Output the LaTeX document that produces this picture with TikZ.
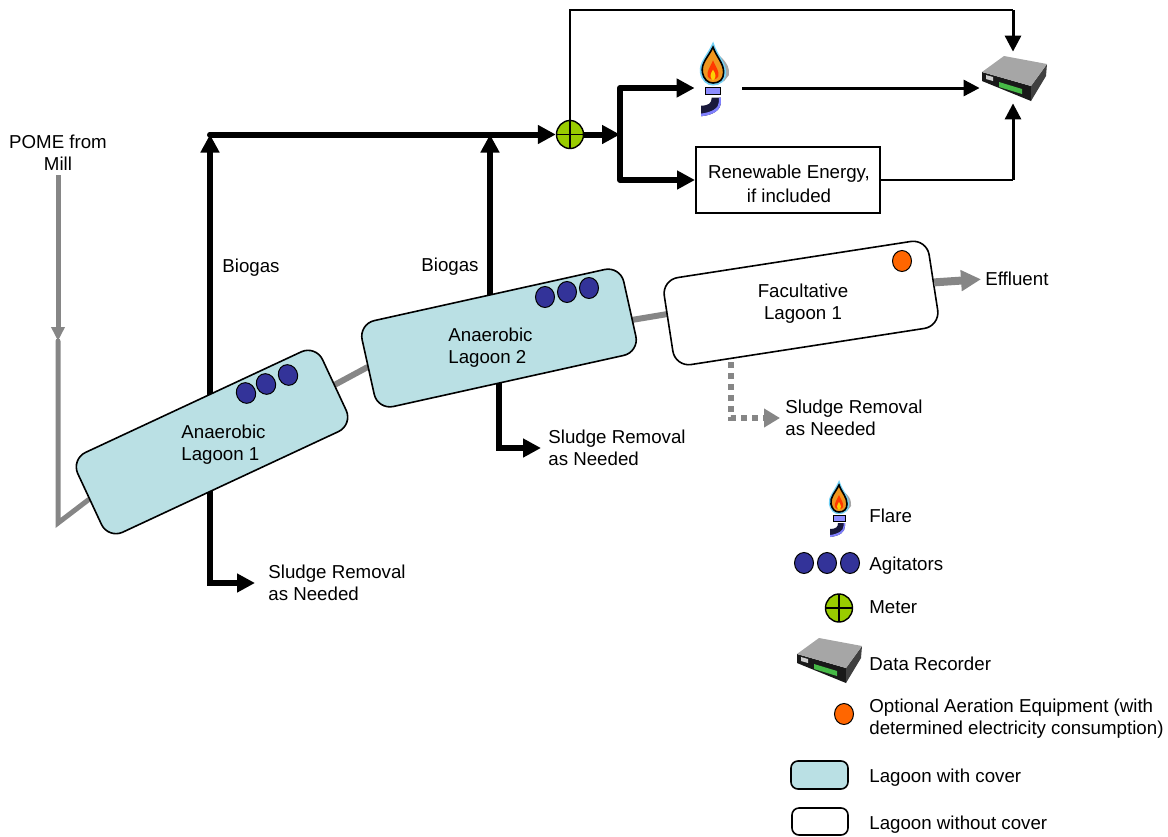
\documentclass[tikz,border=0pt]{standalone}
\usepackage{fontspec}
\setmainfont{Liberation Sans}
\usetikzlibrary{arrows.meta,backgrounds,calc,shapes.geometric}
\definecolor{covercyan}{RGB}{186,224,228}
\definecolor{agitatorblue}{RGB}{51,51,153}
\definecolor{meterlime}{RGB}{153,204,0}
\definecolor{aerateorange}{RGB}{255,102,0}
\definecolor{pipegray}{RGB}{134,134,134}
\definecolor{flameorange}{RGB}{240,150,30}
\definecolor{elbownavy}{RGB}{25,25,60}
\tikzset{
    lbl/.style={inner sep=0pt, yshift=-1pt, align=left, font=\fontsize{9.35}{11}\selectfont},
    lagoon/.style={draw=black, line width=0.8pt, rounded corners=8pt, minimum width=#1*0.5pt, minimum height=44pt, inner sep=0pt},
    agitator/.style={draw=black, fill=agitatorblue, line width=0.5pt, ellipse, minimum width=9.5pt, minimum height=10.5pt, inner sep=0pt},
    aerator/.style={draw=black, fill=aerateorange, line width=0.5pt, ellipse, minimum width=9.5pt, minimum height=10.5pt, inner sep=0pt},
    meterdot/.style={draw=black, fill=meterlime, line width=0.7pt, ellipse, minimum width=13.5pt, minimum height=14pt, inner sep=0pt,
        path picture={\draw[line width=0.7pt] (path picture bounding box.north) -- (path picture bounding box.south)
            (path picture bounding box.west) -- (path picture bounding box.east);}},
    iconslot/.style={inner sep=0pt},
    bus/.style={line width=3pt, line cap=round, black},
    busarrow/.style={bus, line cap=butt, -{Triangle[length=9pt,width=9pt]}},
    midline/.style={line width=1.5pt, black},
    thinline/.style={line width=1pt, black},
    slurry/.style={line width=2.5pt, pipegray, line cap=round},
    pics/flareicon/.style={code={
        \fill[gray!70] (-1,-33) .. controls (5,-25) and (13,-22) .. (12,-12) -- (8,-7) -- cycle;
        \draw[cyan!55, line width=1.2pt, fill=flameorange] (0,-35) .. controls (-4,-26) and (-10,-21) .. (-9,-14) .. controls (-8,-8) and (-4,-5) .. (0,-5) .. controls (5,-5) and (9,-8) .. (9,-14) .. controls (9,-21) and (3,-26) .. (0,-35) -- cycle;
        \draw[black, line width=0.8pt, fill=flameorange] (0,-33) .. controls (-4,-25) and (-9,-21) .. (-8,-14) .. controls (-7,-9) and (-4,-6) .. (0,-6) .. controls (5,-6) and (8,-9) .. (8,-14) .. controls (8,-21) and (3,-25) .. (0,-33) -- cycle;
        \fill[red!55!orange] (0,-23) .. controls (-2,-18) and (-5,-15) .. (-4,-11) .. controls (-3,-8) and (3,-8) .. (4,-11) .. controls (5,-15) and (2,-18) .. (0,-23) -- cycle;
        \fill[yellow!70!orange] (0,-16) .. controls (-2,-13) and (-3,-10) .. (0,-8) .. controls (3,-10) and (2,-13) .. (0,-16) -- cycle;
        \draw[black, line width=0.5pt, fill=blue!45!white] (-6,-3) rectangle (6,3);
        \fill[elbownavy] (-1,5) -- (6,5) -- (6,8) .. controls (6,14) and (1,18) .. (-9,19) -- (-9,11) .. controls (-3,11) and (-1,9) .. (-1,5) -- cycle;
        \fill[blue!50!white] (4.5,5) -- (6,5) -- (6,8) .. controls (6,14) and (1,18) .. (-9,19) -- (-9,17) .. controls (-1,16) and (4.5,13) .. (4.5,8) -- cycle;
    }},
    pics/recordericon/.style={code={
        \fill[black!90] (-32,-6) -- (17,8) -- (17,23) -- (-32,3) -- cycle;
        \fill[black!75] (17,8) -- (33,-14) -- (32,-2) -- (17,23) -- cycle;
        \fill[gray!70] (-32,-6) -- (-10,-22) -- (33,-14) -- (17,8) -- cycle;
        \fill[green!45!gray] (-15,4) -- (8,11) -- (8,16) -- (-15,9) -- cycle;
        \fill[gray!40] (-28,-3) -- (-21,-1) -- (-21,3) -- (-28,1) -- cycle;
    }}
}
\begin{document}
\begin{tikzpicture}[x=0.5pt,y=-0.5pt]
    \useasboundingbox (0,0) rectangle (1168,836);

    % Lagoons
    \node[lagoon=270, fill=covercyan, rotate=25] (lagoonA) at (212,442) {};
    \node[lagoon=268, fill=covercyan, rotate=12.5] (lagoonB) at (499,338) {};
    \node[lagoon=268, fill=white, rotate=8.8] (lagoonC) at (801,303) {};
    \node[lbl, anchor=west] (labelA) at (181,443) {Anaerobic\\Lagoon 1};
    \node[lbl, anchor=west] (labelB) at (448,346) {Anaerobic\\Lagoon 2};
    \node[lbl, align=center] (labelC) at (803,302) {Facultative\\Lagoon 1};

    % Agitators and aeration
    \node[agitator, rotate=25] (agA1) at (246,393) {};
    \node[agitator, rotate=25] (agA2) at (266,384) {};
    \node[agitator, rotate=25] (agA3) at (288,375) {};
    \node[agitator] (agB1) at (545,297) {};
    \node[agitator] (agB2) at (567,292) {};
    \node[agitator] (agB3) at (589,288) {};
    \node[aerator] (aeration) at (902,261) {};

    % Top row
    \node[meterdot] (meter) at (570,134.5) {};
    \node[iconslot, minimum width=23.5pt, minimum height=20pt] (flare) at (718.5,88) {};
    \pic[scale=1.33] at (713,91) {flareicon};
    \node[iconslot, minimum width=33pt, minimum height=25.5pt] (recorder) at (1013,77.5) {};
    \pic at (1014,78) {recordericon};
    \node[draw=black, line width=1pt, minimum width=92pt, minimum height=33pt, inner sep=0pt] (energy) at (788,180) {};
    \node[lbl, align=center] (energyLabel) at (789,182) {Renewable Energy,\\[1pt]if included};

    % Free labels
    \node[lbl, align=center] (pome) at (58,151) {POME from\\Mill};
    \node[lbl, anchor=west] (biogasA) at (222,266) {Biogas};
    \node[lbl, anchor=west] (biogasB) at (421,265) {Biogas};
    \node[lbl, anchor=west] (sludgeA) at (268,581) {Sludge Removal\\as Needed};
    \node[lbl, anchor=west] (sludgeB) at (548,446) {Sludge Removal\\as Needed};
    \node[lbl, anchor=west] (sludgeC) at (785,416) {Sludge Removal\\as Needed};
    \node[lbl, anchor=west] (effluent) at (985,277) {Effluent};

    \coordinate (pomeMid) at (58,341);
    \coordinate (pomeLow) at (58,523);
    \coordinate (busA) at (210,134.5);
    \coordinate (busB) at (490,134.5);
    \coordinate (splitTop) at (620,88);
    \coordinate (splitBot) at (620,180);
    \coordinate (topRun) at (569,10);
    \coordinate (drainC) at (731,362);

    % Pipes run behind the lagoons
    \begin{scope}[on background layer]
        \draw[slurry, -{Triangle[length=7pt,width=6.5pt]}, line cap=butt, shorten <=2pt] (pome.south) -- (pomeMid);
        \draw[slurry] (pomeMid) -- (pomeLow) -- (lagoonA.west);
        \draw[slurry, line width=3pt] (lagoonA.east) -- (lagoonB.west);
        \draw[slurry, line width=3pt] ($(lagoonB.east)+(2,11)$) -- ($(lagoonC.west)+(2,-10)$);
        \draw[busarrow] (busA |- lagoonA.center) -- (busA);
        \draw[busarrow] (busB |- lagoonB.center) -- (busB);
        \draw[busarrow, shorten >=6.5pt]
            (busA |- lagoonA.center) -- (busA |- sludgeA.west) -- (sludgeA.west);
        \draw[busarrow, shorten >=3.5pt]
            (lagoonB.center) -- (lagoonB.center |- sludgeB.west) -- (sludgeB.west);
    \end{scope}

    % Biogas line
    \draw[bus] (busA) -- (busB);
    \draw[busarrow] (busB) -- (meter.west);
    \draw[busarrow] (meter.east) -- (meter.east -| splitTop);
    \draw[bus] (splitTop) -- (splitBot);
    \draw[busarrow] (splitTop) -- (flare.west);
    \draw[busarrow] (splitBot) -- (energy.west);
    \draw[midline, -{Triangle[length=8pt,width=8pt]}] (flare.east) -- (flare.east -| recorder.west);
    \coordinate (topCorner) at (recorder.north |- topRun);
    \draw[thinline] (meter.north) -- (meter.north |- topRun) -- (topCorner);
    \draw[midline, -{Triangle[length=8pt,width=8pt]}] (topCorner) -- (recorder.north);
    \coordinate (energyCorner) at (recorder.south |- energy.east);
    \draw[thinline] (energy.east) -- (energyCorner);
    \draw[midline, -{Triangle[length=8pt,width=8pt]}] (energyCorner) -- (recorder.south);

    % Effluent and facultative sludge
    \draw[pipegray, line width=4pt, -{Triangle[length=10pt,width=10pt]}, shorten >=2pt] (lagoonC.east) -- (effluent.west);
    \draw[pipegray, line width=3pt, dash pattern=on 3pt off 2.5pt, -{Triangle[length=8pt,width=9pt]}, shorten >=2.5pt]
        (drainC) -- (drainC |- sludgeC.west) -- (sludgeC.west);

    % Legend
    \pic at (839,518) {flareicon};
    \node[lbl, anchor=west] (keyFlare) at (869,514) {Flare};
    \node[agitator] (keyAg1) at (804,563) {};
    \node[agitator] (keyAg2) at (827,563) {};
    \node[agitator] (keyAg3) at (850,563) {};
    \node[lbl, anchor=west] (keyAgitators) at (869,564) {Agitators};
    \node[meterdot] (keyMeter) at (839,608) {};
    \node[lbl, anchor=west] (keyMeterText) at (869,605) {Meter};
    \pic at (829,660) {recordericon};
    \node[lbl, anchor=west] (keyRecorder) at (869,662) {Data Recorder};
    \node[aerator] (keyAeration) at (844,714) {};
    \node[lbl, anchor=west] (keyAerationText) at (869,717) {Optional Aeration Equipment (with\\determined electricity consumption)};
    \node[draw=black, line width=0.8pt, rounded corners=3.5pt, fill=covercyan, minimum width=28.5pt, minimum height=14pt, inner sep=0pt] (keyCover) at (819.5,775) {};
    \node[lbl, anchor=west] (keyCoverText) at (869,776) {Lagoon with cover};
    \node[draw=black, line width=0.8pt, rounded corners=3.5pt, fill=white, minimum width=28pt, minimum height=13.5pt, inner sep=0pt] (keyOpen) at (820,821.5) {};
    \node[lbl, anchor=west] (keyOpenText) at (869,823) {Lagoon without cover};
\end{tikzpicture}
\end{document}
